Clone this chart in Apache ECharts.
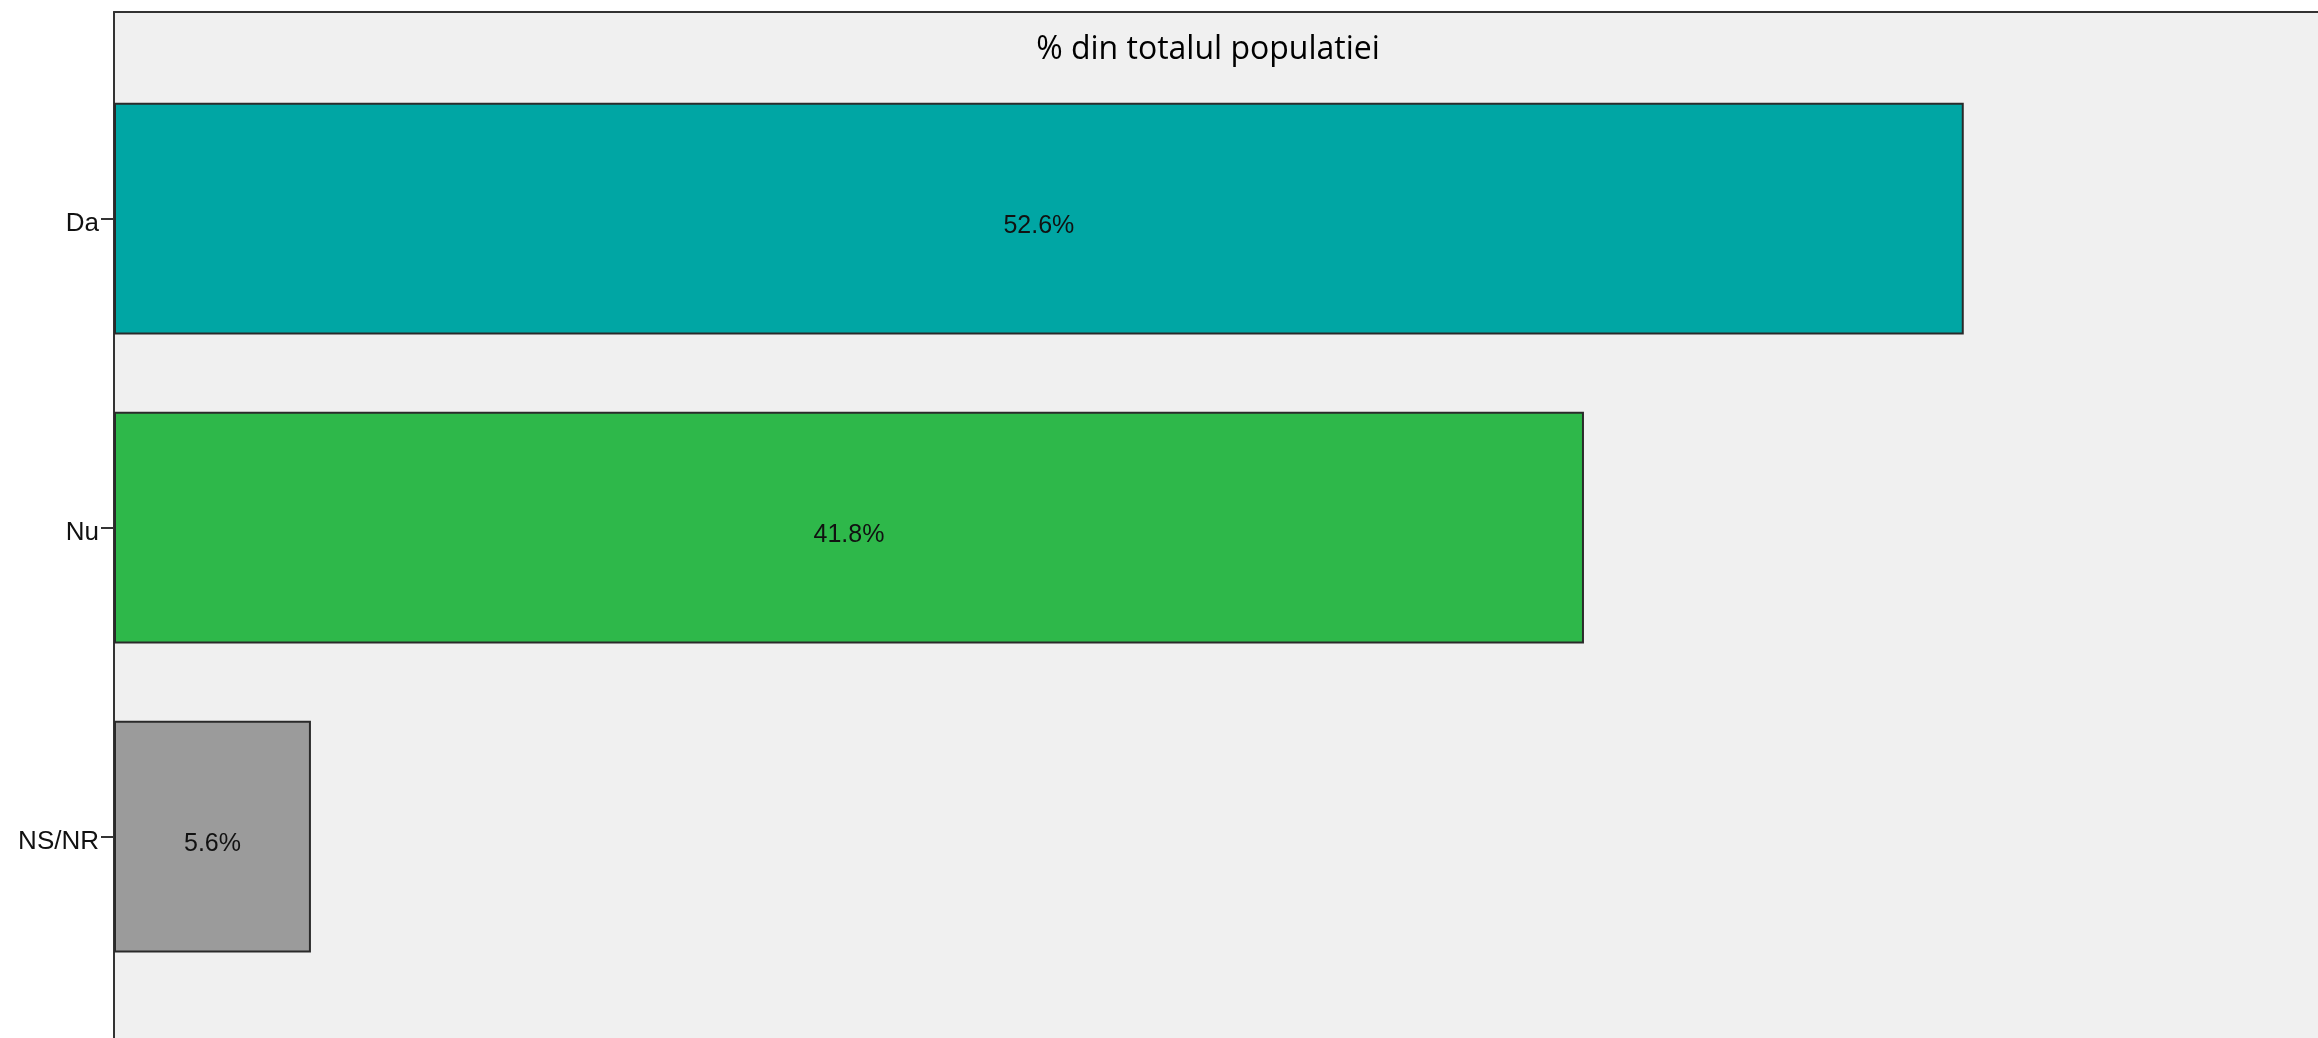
<!DOCTYPE html>
<html lang="ro">
<head>
<meta charset="UTF-8">
<title>% din totalul populatiei</title>
<style>
  html, body, #main { width: 100%; height: 100%; margin: 0; padding: 0; background: #ffffff; }
</style>
<script src="https://cdn.jsdelivr.net/npm/echarts@6/dist/echarts.min.js"></script>
</head>
<body>
<div id="main"></div>
<script>
  // data
  const categories = ['Da', 'Nu', 'NS/NR'];
  const values = [52.6, 41.8, 5.6];
  const barColors = ['#00a6a4', '#2eb84a', '#9b9b9b'];

  var chart = echarts.init(document.getElementById('main'));

  var option = {
    animation: false,
    title: {
      text: '% din totalul populatiei',
      left: 1203,
      top: 29,
      textAlign: 'center',
      textStyle: { fontFamily: 'Open Sans', fontWeight: 'normal', fontSize: 32, color: '#000' }
    },
    grid: [
      // background panel, runs past the right and bottom edges
      { left: 114, top: 12, right: 0, bottom: 0, show: true, backgroundColor: '#f0f0f0',
        borderWidth: 0, z: 0 },
      // bars
      { left: 114, top: 64, height: 927, width: 2110, show: false }
    ],
    xAxis: [
      // top frame line
      { gridIndex: 0, type: 'value', position: 'top',
        axisLine: { show: true, onZero: false, lineStyle: { color: '#333', width: 2 } },
        axisTick: { show: false }, axisLabel: { show: false }, splitLine: { show: false } },
      { gridIndex: 1, type: 'value', min: 0, max: 60, show: false }
    ],
    yAxis: [
      // left frame line
      { gridIndex: 0, type: 'value', position: 'left',
        axisLine: { show: true, onZero: false, lineStyle: { color: '#333', width: 2 } },
        axisTick: { show: false }, axisLabel: { show: false }, splitLine: { show: false } },
      {
        gridIndex: 1,
        type: 'category',
        data: categories,
        inverse: true,
        axisLine: { show: false },
        axisTick: { show: true, alignWithLabel: true, length: 13, lineStyle: { color: '#333', width: 2 } },
        axisLabel: {
          margin: 15,
          formatter: '{a|{value}}',
          rich: { a: { padding: [10, 0, 0, 0], fontFamily: 'Liberation Sans', fontSize: 26, color: '#111' } }
        },
        splitLine: { show: false }
      }
    ],
    series: [{
      type: 'bar',
      xAxisIndex: 1,
      yAxisIndex: 1,
      barCategoryGap: '25%',
      data: values.map(function (v, i) {
        return { value: v, itemStyle: { color: barColors[i] } };
      }),
      itemStyle: { borderColor: '#2a2a2a', borderWidth: 2 },
      label: {
        show: true,
        position: 'inside',
        offset: [0, 8],
        formatter: function (p) { return p.value.toFixed(1) + '%'; },
        fontFamily: 'Liberation Sans',
        fontSize: 25,
        color: '#111'
      }
    }]
  };

  chart.setOption(option);
</script>
</body>
</html>
